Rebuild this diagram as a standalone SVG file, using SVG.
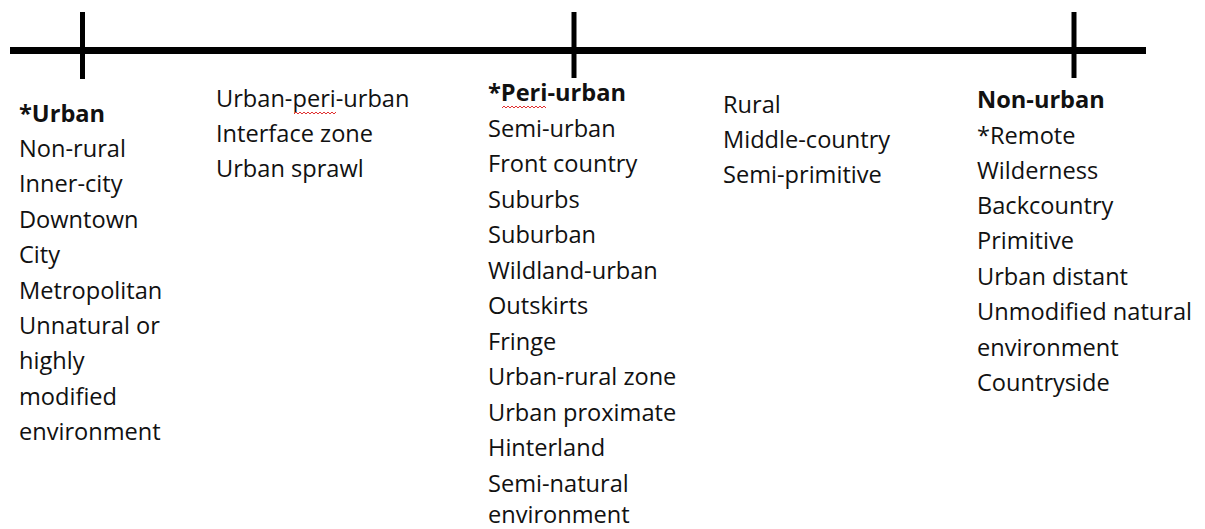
<svg xmlns="http://www.w3.org/2000/svg" width="1205" height="529" viewBox="0 0 1205 529">
<style>
text{font-family:"Open Sans","Liberation Sans",sans-serif;font-size:23.6px;fill:#111}
.b{font-weight:bold}
.axis{stroke:#000;fill:none}
.sq{stroke:#e03030;stroke-width:1;fill:none}
</style>
<rect width="1205" height="529" fill="#fff"/>
<g id="connectors">
<line class="axis" x1="10" y1="50.5" x2="1146" y2="50.5" stroke-width="7"/>
<line class="axis" x1="82.5" y1="12" x2="82.5" y2="79" stroke-width="5"/>
<line class="axis" x1="574" y1="12" x2="574" y2="78" stroke-width="5"/>
<line class="axis" x1="1074" y1="12" x2="1074" y2="78" stroke-width="5"/>
</g>
<g id="urban">
<text x="19" y="121.5" class="b">*Urban</text>
<text x="19" y="157">Non-rural</text>
<text x="19" y="192.4">Inner-city</text>
<text x="19" y="227.8">Downtown</text>
<text x="19" y="263.2">City</text>
<text x="19" y="298.6">Metropolitan</text>
<text x="19" y="334">Unnatural or</text>
<text x="19" y="369.4">highly</text>
<text x="19" y="404.8">modified</text>
<text x="19" y="440.2">environment</text>
</g>
<g id="urban-peri-urban">
<text x="216" y="106.5">Urban-peri-urban</text>
<text x="216" y="141.5">Interface zone</text>
<text x="216" y="176.7">Urban sprawl</text>
<path class="sq" d="M294 114 l2 -2 l2 2 l2 -2 l2 2 l2 -2 l2 2 l2 -2 l2 2 l2 -2 l2 2 l2 -2 l2 2 l2 -2 l2 2 l2 -2 l2 2 l2 -2 l2 2 l2 -2 l2 2 l2 -2"/>
</g>
<g id="peri-urban">
<text x="488" y="100.5" class="b">*Peri-urban</text>
<text x="488" y="136.5">Semi-urban</text>
<text x="488" y="172">Front country</text>
<text x="488" y="207.5">Suburbs</text>
<text x="488" y="243">Suburban</text>
<text x="488" y="278.5">Wildland-urban</text>
<text x="488" y="314">Outskirts</text>
<text x="488" y="349.5">Fringe</text>
<text x="488" y="385">Urban-rural zone</text>
<text x="488" y="420.5">Urban proximate</text>
<text x="488" y="456">Hinterland</text>
<text x="488" y="491.5">Semi-natural</text>
<text x="488" y="523">environment</text>
<path class="sq" d="M502 108 l2 -2 l2 2 l2 -2 l2 2 l2 -2 l2 2 l2 -2 l2 2 l2 -2 l2 2 l2 -2 l2 2 l2 -2 l2 2 l2 -2 l2 2 l2 -2 l2 2 l2 -2 l2 2 l2 -2 l2 2"/>
</g>
<g id="rural">
<text x="723" y="112.5">Rural</text>
<text x="723" y="148">Middle-country</text>
<text x="723" y="183.4">Semi-primitive</text>
</g>
<g id="non-urban">
<text x="977" y="108.3" class="b">Non-urban</text>
<text x="977" y="143.5">*Remote</text>
<text x="977" y="178.5">Wilderness</text>
<text x="977" y="214">Backcountry</text>
<text x="977" y="249.4">Primitive</text>
<text x="977" y="284.8">Urban distant</text>
<text x="977" y="320.2">Unmodified natural</text>
<text x="977" y="355.6">environment</text>
<text x="977" y="391">Countryside</text>
</g>
</svg>
